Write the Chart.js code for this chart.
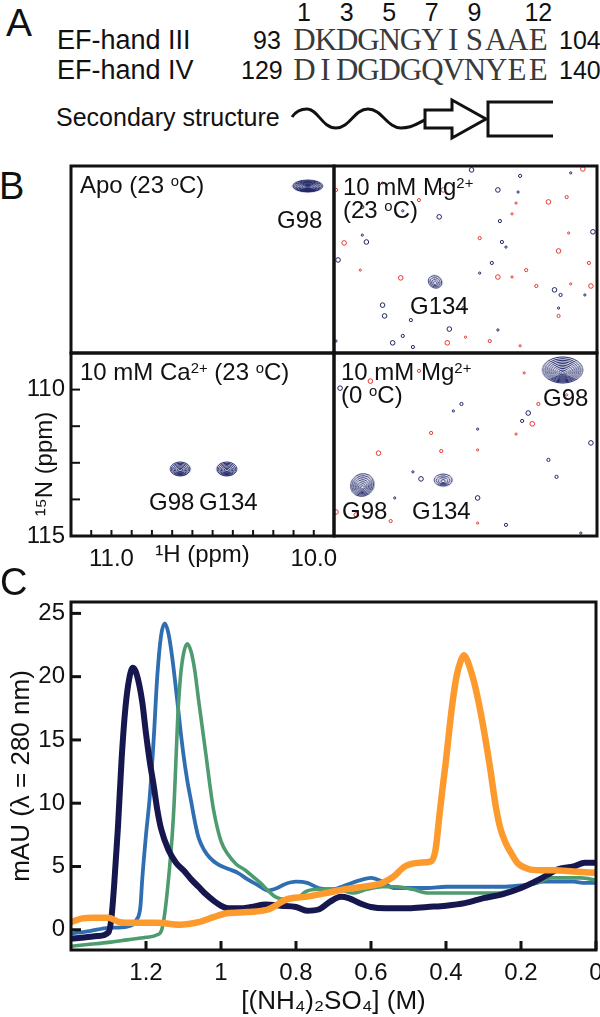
<!DOCTYPE html>
<html>
<head>
<meta charset="utf-8">
<script src="https://cdn.jsdelivr.net/npm/chart.js@4.4.1/dist/chart.umd.min.js"></script>
<style>
html,body{margin:0;padding:0;background:#fff;}
body{position:relative;width:600px;height:1017px;overflow:hidden;font-family:'Liberation Sans',Arial,Helvetica,sans-serif;color:#111;}
.t{position:absolute;white-space:nowrap;line-height:1;}
canvas{position:absolute;}
sup{font-size:0.62em;vertical-align:0.45em;line-height:0;}
.seq{position:absolute;width:21.3px;text-align:center;line-height:1;font-family:'Liberation Serif','Times New Roman',serif;font-size:31px;color:#3a3a3a;}
</style>
</head>
<body>
<div id="panelA"></div>
<svg style="position:absolute;left:0;top:0" width="600" height="150">
  <path d="M292,117 C296,111 301,109 307,109 C318,109 322,128 336,128 C350,128 354,109 368,109 C382,109 387,128 401,128 C414,128 419,122 425,120" fill="none" stroke="#111" stroke-width="3"/>
  <path d="M425,110 H452 V100 L486,119 L452,138 V128 H425 Z" fill="#fff" stroke="#111" stroke-width="3"/>
  <path d="M553,102 H488 V136 H553" fill="none" stroke="#111" stroke-width="3"/>
</svg>

<canvas id="apo" width="273" height="197" style="left:66px;top:161px"></canvas>
<canvas id="mgrt" width="273" height="197" style="left:329px;top:161px"></canvas>
<canvas id="mg0" width="273" height="193" style="left:329px;top:348px"></canvas>
<canvas id="ca" width="339" height="232" style="left:0px;top:348px"></canvas>
<canvas id="hic" width="600" height="447" style="left:0px;top:570px"></canvas>

<div class="t" style="left:6px;top:3px;font-size:39px">A</div>
<div class="t" style="left:-1px;top:167px;font-size:38px">B</div>
<div class="t" style="left:0px;top:563px;font-size:38px">C</div>

<div class="t" style="left:80px;top:173px;font-size:24px">Apo (23 <sup>o</sup>C)</div>
<div class="t" style="left:277px;top:208px;font-size:24px">G98</div>
<div class="t" style="left:343px;top:175px;font-size:24px">10 mM Mg<sup>2+</sup></div>
<div class="t" style="left:343px;top:198px;font-size:24px">(23 <sup>o</sup>C)</div>
<div class="t" style="left:410px;top:294px;font-size:24px">G134</div>
<div class="t" style="left:80px;top:360px;font-size:24px">10 mM Ca<sup>2+</sup> (23 <sup>o</sup>C)</div>
<div class="t" style="left:149px;top:490px;font-size:24px">G98</div>
<div class="t" style="left:199px;top:490px;font-size:24px">G134</div>
<div class="t" style="left:341px;top:360px;font-size:24px">10 mM Mg<sup>2+</sup></div>
<div class="t" style="left:341px;top:383px;font-size:24px">(0 <sup>o</sup>C)</div>
<div class="t" style="left:543px;top:386px;font-size:24px">G98</div>
<div class="t" style="left:342px;top:499px;font-size:24px">G98</div>
<div class="t" style="left:412px;top:499px;font-size:24px">G134</div>
<div class="t" style="left:44px;top:464px;font-size:24px;transform:translate(-50%,-50%) rotate(-90deg);">¹⁵N (ppm)</div>

<script>
// ================= DATA =================
// Panel A
const seqNumbers = ['1','3','5','7','9','12'];
const seqNumberPos = [0, 2, 4, 6, 8, 11];
const efHandIII = 'DKDGNGYISAAE';
const efHandIV = 'DIDGDGQVNYEE';

// Panel C : elution profiles, x = [(NH4)2SO4] (M), y = mAU (280 nm)
const navySalt = [1.40,1.36,1.33,1.30,1.292,1.285,1.275,1.265,1.255,1.245,1.235,1.225,1.21,1.20,1.19,1.18,1.17,1.16,1.14,1.12,1.10,1.08,1.06,1.04,1.02,1.00,0.98,0.95,0.92,0.88,0.84,0.80,0.77,0.74,0.71,0.68,0.66,0.63,0.60,0.56,0.50,0.45,0.40,0.35,0.30,0.25,0.20,0.15,0.12,0.10,0.06,0.03,0.00];
const navyAbs  = [-0.7,-0.6,-0.5,-0.2,1.0,3.5,8.0,13.5,17.5,19.8,20.7,20.2,18.0,15.5,13.3,11.5,9.5,8.0,6.3,5.3,4.7,4.0,3.4,2.8,2.3,1.9,1.7,1.7,1.8,2.0,1.9,1.8,1.5,1.6,2.2,2.6,2.5,2.1,1.8,1.7,1.7,1.8,1.9,2.1,2.5,2.8,3.3,4.0,4.5,4.8,5.0,5.3,5.3];

const blueSalt = [1.40,1.35,1.30,1.25,1.225,1.215,1.21,1.20,1.19,1.18,1.17,1.16,1.15,1.14,1.13,1.12,1.11,1.10,1.09,1.08,1.07,1.06,1.045,1.03,1.01,0.98,0.955,0.93,0.90,0.875,0.85,0.83,0.80,0.77,0.74,0.70,0.67,0.63,0.60,0.57,0.54,0.50,0.45,0.40,0.35,0.30,0.25,0.20,0.17,0.14,0.10,0.06,0.03,0.00];
const blueAbs  = [-0.3,-0.1,0.15,0.25,0.8,1.8,4.0,7.5,10.5,14.8,20.0,23.2,24.2,23.4,21.5,19.0,16.3,13.8,11.8,10.2,8.6,7.3,6.3,5.7,5.2,4.8,4.5,4.0,3.5,3.1,3.3,3.6,3.8,3.7,3.3,3.2,3.5,3.9,4.1,3.8,3.3,3.3,3.3,3.4,3.4,3.4,3.4,3.5,3.6,3.8,3.8,3.8,3.7,3.7];

const greenSalt = [1.40,1.35,1.30,1.25,1.20,1.17,1.158,1.15,1.14,1.13,1.125,1.12,1.115,1.108,1.10,1.09,1.08,1.07,1.06,1.05,1.04,1.03,1.02,1.00,0.98,0.96,0.935,0.915,0.895,0.875,0.855,0.83,0.81,0.795,0.775,0.74,0.69,0.65,0.61,0.57,0.53,0.49,0.445,0.40,0.35,0.30,0.26,0.21,0.16,0.12,0.08,0.04,0.00];
const greenAbs  = [-1.3,-1.15,-1.0,-0.8,-0.6,-0.4,0.0,1.3,4.0,7.5,10.0,13.5,17.0,20.0,21.8,22.6,22.0,20.5,18.2,16.0,13.8,11.5,9.5,7.0,5.9,5.2,4.7,4.2,3.7,3.1,2.6,2.4,2.4,2.5,3.0,3.2,3.2,2.9,3.2,3.4,3.4,3.2,2.9,2.9,2.9,2.9,2.9,3.3,3.7,4.1,4.1,4.1,3.9];

const orangeSalt = [1.40,1.37,1.34,1.30,1.27,1.235,1.17,1.11,1.06,1.02,0.985,0.93,0.875,0.825,0.775,0.72,0.67,0.62,0.57,0.54,0.51,0.47,0.44,0.428,0.418,0.41,0.40,0.385,0.372,0.36,0.352,0.342,0.332,0.322,0.304,0.283,0.267,0.255,0.24,0.225,0.21,0.18,0.15,0.11,0.06,0.00];
const orangeAbs  = [0.6,0.9,0.95,0.95,0.6,0.55,0.55,0.4,0.6,1.0,1.3,1.4,1.6,2.4,2.6,2.9,3.2,3.4,3.7,4.2,5.0,5.3,5.4,6.3,8.9,11.0,13.4,17.4,20.0,21.3,21.7,21.2,20.3,19.2,16.6,12.9,9.7,8.0,6.8,6.0,5.3,4.8,4.7,4.7,4.6,4.5];

const cXTickVals = [1.2, 1.0, 0.8, 0.6, 0.4, 0.2, 0];
const cXTickLabels = ['1.2', '1', '0.8', '0.6', '0.4', '0.2', '0'];
const cYTickVals = [0, 5, 10, 15, 20, 25];
const cYTickLabels = ['0', '5', '10', '15', '20', '25'];

// Panel B : 1H (ppm) / 15N (ppm) peak positions
const apoPeakH = [10.03];              const apoPeakN = [109.42];
const caPeakH = [10.66, 10.43];        const caPeakN = [112.71, 112.71];
const mgRtPeakH = [10.70];             const mgRtPeakN = [112.62];
const mg0PeakH = [10.07, 11.06, 10.66]; const mg0PeakN = [109.33, 113.26, 113.09];

const mgRtBlueH = [10.52,10.28,10.29,10.39,11.06,10.86,10.68,10.38,11.06,11.04,10.37,10.35,11.18,10.42,10.48,10.11,10.08,9.96,10.96,10.56,10.09,10.95,10.82,10.39,10.63,10.86,11.19,10.91,10.81,10.03,9.92];
const mgRtBlueN = [108.88,109.08,109.62,109.55,110.12,110.25,110.45,110.59,111.06,111.29,111.29,111.46,111.89,111.99,112.33,112.89,113.06,113.06,113.40,113.50,113.50,113.76,113.90,114.23,114.20,114.43,114.60,114.66,114.80,108.98,110.95];
const mgRtRedH = [9.97,11.19,10.96,10.66,10.78,10.30,10.14,10.05,10.32,11.15,10.48,10.04,10.09,9.94,11.07,10.87,10.25,10.32,10.39,10.20,10.03,9.93,10.09,10.55,10.64,10.43,10.28];
const mgRtRedN = [108.85,109.55,109.32,109.55,109.89,109.99,109.95,109.79,110.35,111.32,111.16,110.99,111.59,111.99,112.23,112.49,112.23,112.46,112.46,112.76,112.69,112.76,113.76,114.47,114.66,114.60,114.76];
const mg0BlueH = [11.17,10.57,10.61,10.24,10.27,10.49,9.93,10.14,10.81,10.77,10.10,10.90,10.49,10.35,9.98];
const mg0BlueN = [109.95,110.49,110.73,110.80,111.07,111.35,111.82,112.40,112.81,113.05,112.98,113.70,113.70,114.62,114.90];
const mg0RedH = [11.02,10.19,10.05,10.22,10.72,10.30,10.98,10.67,10.49,11.09,10.92,10.49,11.19,10.78,10.26];
const mg0RedN = [109.71,110.49,110.18,111.17,111.48,111.52,112.17,112.10,112.06,114.28,114.49,114.56,114.18,109.36,109.43];

const bXTickVals = [11.1, 11.0, 10.9, 10.8, 10.7, 10.6, 10.5, 10.4, 10.3, 10.2, 10.1, 10.0];
const bXTickLabels = ['', '11.0', '', '', '', '', '', '', '', '', '', '10.0'];
const bYTickVals = [110, 111.25, 112.5, 113.75, 115];
const bYTickLabels = ['110', '', '', '', '115'];

// ================= RENDER =================
const FONT = "'Liberation Sans', Arial, Helvetica, sans-serif";
const INK = '#111111';
const NAVY = '#1d2466';
const RED = '#e23a32';

// Panel A text rows
(function () {
  const pa = document.getElementById('panelA');
  const add = (html, left, top, size, extra) => {
    const d = document.createElement('div');
    d.className = 't'; d.innerHTML = html;
    d.style.left = left + 'px'; d.style.top = top + 'px'; d.style.fontSize = size + 'px';
    if (extra) Object.assign(d.style, extra);
    pa.appendChild(d);
  };
  const cx0 = 304, step = 21.3;
  seqNumbers.forEach((n, i) => {
    add(n, cx0 + seqNumberPos[i] * step - 20, 0, 25, {width: '40px', textAlign: 'center'});
  });
  const row = (seq, yc) => {
    for (let i = 0; i < seq.length; i++) {
      const d = document.createElement('div');
      d.className = 'seq'; d.textContent = seq[i];
      d.style.left = (cx0 + i * step - step / 2) + 'px';
      d.style.top = (yc - 15.7) + 'px';
      pa.appendChild(d);
    }
  };
  add('EF-hand III', 57, 27, 27);
  add('93', 253, 28, 25);
  row(efHandIII, 40);
  add('104', 559, 28, 25);
  add('EF-hand IV', 57, 57, 27);
  add('129', 241, 58, 25);
  row(efHandIV, 70);
  add('140', 559, 58, 25);
  add('Secondary structure', 56, 105, 25);
})();

const framePlugin = {
  id: 'frame',
  afterDraw(chart, args, opts) {
    const a = chart.chartArea, c = chart.ctx;
    c.save(); c.lineWidth = opts.width || 3; c.strokeStyle = INK;
    c.strokeRect(a.left, a.top, a.right - a.left, a.bottom - a.top);
    c.restore();
  }
};
const inTicksPlugin = {
  id: 'inTicks',
  afterDraw(chart, args, opts) {
    const c = chart.ctx, a = chart.chartArea;
    c.save(); c.strokeStyle = INK;
    ['x', 'y'].forEach(id => {
      const o = opts[id]; if (!o) return;
      const s = chart.scales[id];
      c.lineWidth = o.width;
      s.ticks.forEach(t => {
        const p = s.getPixelForValue(t.value);
        c.beginPath();
        if (s.isHorizontal()) { c.moveTo(p, a.bottom); c.lineTo(p, a.bottom - o.len); }
        else { c.moveTo(a.left, p); c.lineTo(a.left + o.len, p); }
        c.stroke();
      });
    });
    c.restore();
  }
};
const noPad = s => { s.paddingTop = 0; s.paddingBottom = 0; s.paddingLeft = 0; s.paddingRight = 0; };

function contour(rx, ry, rings, rot) {
  const w = Math.ceil(2 * Math.max(rx, ry) + 6);
  const cv = document.createElement('canvas');
  cv.width = w; cv.height = w;
  const g = cv.getContext('2d');
  g.strokeStyle = NAVY; g.lineWidth = 1;
  for (let k = 0; k < rings; k++) {
    const f = 1 - k / rings;
    g.beginPath();
    g.ellipse(w / 2, w / 2 + (1 - f) * ry * 0.25, Math.max(rx * f, 0.5), Math.max(ry * f, 0.5), rot || 0, 0, Math.PI * 2);
    g.stroke();
  }
  return cv;
}
const pts = (xs, ys) => xs.map((x, i) => ({x: x, y: ys[i]}));

function peakSet(H, N, styles) {
  return {data: pts(H, N), pointStyle: styles, pointRadius: 5, pointBorderWidth: 0, showLine: false};
}
function noiseSet(H, N, color) {
  return {data: pts(H, N), pointStyle: 'circle',
          pointRadius: H.map((h, i) => (i % 3 === 0 ? 2.3 : i % 3 === 1 ? 1.6 : 1.1)),
          pointBorderWidth: 1,
          pointBorderColor: color, pointBackgroundColor: 'rgba(0,0,0,0)', showLine: false};
}

function hiddenSpectrum(id, datasets) {
  return new Chart(document.getElementById(id), {
    type: 'scatter',
    data: {datasets: datasets},
    options: {
      responsive: false, animation: false, events: [],
      layout: {padding: 5},
      plugins: {legend: {display: false}, tooltip: {enabled: false}, frame: {width: 3}},
      scales: {
        x: {type: 'linear', reverse: true, min: 9.9, max: 11.2, display: false},
        y: {type: 'linear', reverse: true, min: 108.75, max: 115, display: false}
      }
    },
    plugins: [framePlugin]
  });
}

hiddenSpectrum('apo', [peakSet(apoPeakH, apoPeakN, [contour(15, 6, 10)])]);
hiddenSpectrum('mgrt', [
  peakSet(mgRtPeakH, mgRtPeakN, [contour(7, 6, 4, 0.5)]),
  noiseSet(mgRtBlueH, mgRtBlueN, NAVY),
  noiseSet(mgRtRedH, mgRtRedN, RED)
]);
hiddenSpectrum('mg0', [
  peakSet(mg0PeakH, mg0PeakN, [contour(20, 13, 10), contour(12, 11, 7, -0.6), contour(9, 6, 4)]),
  noiseSet(mg0BlueH, mg0BlueN, NAVY),
  noiseSet(mg0RedH, mg0RedN, RED)
]);

new Chart(document.getElementById('ca'), {
  type: 'scatter',
  data: {datasets: [peakSet(caPeakH, caPeakN, [contour(10, 7, 7), contour(10, 7, 7)])]},
  options: {
    responsive: false, animation: false, events: [],
    layout: {padding: {top: 5, right: 5, left: 0, bottom: 0}},
    plugins: {legend: {display: false}, tooltip: {enabled: false}, frame: {width: 3},
              inTicks: {x: {len: 6, width: 2}, y: {len: 9, width: 2}}},
    scales: {
      x: {type: 'linear', reverse: true, min: 9.9, max: 11.2,
          afterBuildTicks: s => { s.ticks = bXTickVals.map(v => ({value: v})); },
          afterFit: s => { s.height = 44; noPad(s); },
          grid: {display: false, drawTicks: false}, border: {display: false},
          ticks: {autoSkip: false, maxRotation: 0, minRotation: 0, padding: 9, color: INK,
                  font: {family: FONT, size: 24}, callback: (v, i) => bXTickLabels[i]},
          title: {display: true, text: '¹H (ppm)', color: INK, font: {family: FONT, size: 24},
                  padding: {top: 0, bottom: 10}}},
      y: {type: 'linear', reverse: true, min: 108.75, max: 115,
          afterBuildTicks: s => { s.ticks = bYTickVals.map(v => ({value: v})); },
          afterFit: s => { s.width = 71; noPad(s); },
          grid: {display: false, drawTicks: false}, border: {display: false},
          ticks: {autoSkip: false, padding: 6, color: INK, font: {family: FONT, size: 24},
                  callback: (v, i) => bYTickLabels[i]}}
    }
  },
  plugins: [framePlugin, inTicksPlugin]
});

new Chart(document.getElementById('hic'), {
  type: 'line',
  data: {datasets: [
    {label: 'orange', data: pts(orangeSalt, orangeAbs), borderColor: '#fd9a2e', borderWidth: 6.5},
    {label: 'navy', data: pts(navySalt, navyAbs), borderColor: '#17174f', borderWidth: 6},
    {label: 'green', data: pts(greenSalt, greenAbs), borderColor: '#4e9b70', borderWidth: 3.6},
    {label: 'blue', data: pts(blueSalt, blueAbs), borderColor: '#2f6fb1', borderWidth: 3.8}
  ]},
  options: {
    responsive: false, animation: false, events: [],
    layout: {padding: {top: 32, right: 4, left: 0, bottom: 0}},
    elements: {point: {radius: 0}, line: {cubicInterpolationMode: 'monotone', fill: false,
               borderJoinStyle: 'round', borderCapStyle: 'round'}},
    plugins: {legend: {display: false}, tooltip: {enabled: false}, frame: {width: 3},
              inTicks: {x: {len: 9, width: 3}, y: {len: 10, width: 3}}},
    scales: {
      x: {type: 'linear', reverse: true, min: 0, max: 1.4,
          afterBuildTicks: s => { s.ticks = cXTickVals.map(v => ({value: v})); },
          afterFit: s => { s.height = 67; noPad(s); },
          grid: {display: false, drawTicks: false}, border: {display: false},
          ticks: {autoSkip: false, maxRotation: 0, minRotation: 0, padding: 9, color: INK,
                  font: {family: FONT, size: 24}, callback: (v, i) => cXTickLabels[i]},
          title: {display: true, text: '[(NH₄)₂SO₄] (M)', color: INK, font: {family: FONT, size: 26},
                  padding: {top: 0, bottom: 0}}},
      y: {type: 'linear', min: -1.6, max: 25.9,
          afterBuildTicks: s => { s.ticks = cYTickVals.map(v => ({value: v})); },
          afterFit: s => { s.width = 71; noPad(s); },
          grid: {display: false, drawTicks: false}, border: {display: false},
          ticks: {autoSkip: false, padding: 6, color: INK, font: {family: FONT, size: 24},
                  callback: (v, i) => cYTickLabels[i]},
          title: {display: true, text: 'mAU (λ = 280 nm)', color: INK, font: {family: FONT, size: 26},
                  padding: {top: 6, bottom: 0}}}
    }
  },
  plugins: [framePlugin, inTicksPlugin]
});
</script>
</body>
</html>
